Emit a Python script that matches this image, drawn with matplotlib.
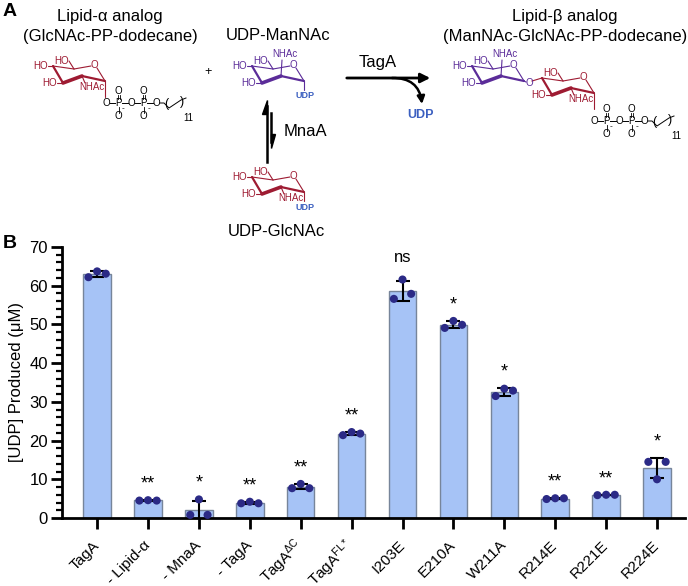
import numpy as np
import matplotlib
matplotlib.use('Agg')
import matplotlib.pyplot as plt
from matplotlib.patches import Polygon

plt.rcParams['font.family'] = ['Liberation Sans', 'DejaVu Sans']
plt.rcParams['mathtext.fontset'] = 'custom'
plt.rcParams['mathtext.rm'] = 'Liberation Sans'
plt.rcParams['mathtext.it'] = 'Liberation Sans:italic'

# panel B data: three replicates per condition (left, middle, right dot)
labels = ['TagA', '- Lipid-α', '- MnaA', '- TagA', r'TagA$^{\mathrm{ΔC}}$',
          r'TagA$^{\mathrm{FL}*}$', 'I203E', 'E210A', 'W211A', 'R214E', 'R221E', 'R224E']
rep_left = [62.2, 4.5, 0.8, 3.8, 7.7, 21.4, 56.6, 49.1, 31.5, 4.9, 5.9, 14.5]
rep_mid = [63.7, 4.6, 4.8, 4.2, 8.8, 22.2, 61.6, 50.9, 33.4, 5.1, 6.0, 10.0]
rep_right = [63.1, 4.5, 0.8, 3.8, 7.7, 21.8, 57.9, 49.9, 32.9, 5.1, 6.0, 14.5]
signif = ['', '**', '*', '**', '**', '**', 'ns', '*', '*', '**', '**', '*']

reps = np.array([rep_left, rep_mid, rep_right])
means = reps.mean(axis=0)
sds = reps.std(axis=0, ddof=1)

RED = '#9e1b32'
PURPLE = '#5b2c99'
BLUE = '#3b5fc0'

fig = plt.figure(figsize=(6.88, 5.86), dpi=100)

# ---------- panel A: scheme drawn in pixel coordinates ----------
ax0 = fig.add_axes([0, 0, 1, 1])
ax0.set_xlim(0, 688)
ax0.set_ylim(586, 0)
ax0.axis('off')


def chair(x0, y0, color, nhac_up=False, c4_label=True, anomer=None):
    p = {'C4': (0, 0), 'C5': (21, 3), 'O': (41, -1), 'C1': (52, 15),
         'C2': (29, 10), 'C3': (10, 17)}
    p = {k: (x0 + v[0], y0 + v[1]) for k, v in p.items()}

    def ln(a, b, lw=0.8):
        ax0.plot([a[0], b[0]], [a[1], b[1]], color=color, lw=lw,
                 solid_capstyle='round')
    ln(p['C4'], p['C5'])
    ln(p['C5'], (p['O'][0] - 3, p['O'][1] + 1))
    ln((p['O'][0] + 3, p['O'][1] + 3), p['C1'])
    ln(p['C1'], p['C2'], 1.6)
    ln(p['C2'], p['C3'], 2.6)
    ln(p['C3'], p['C4'], 1.6)
    ax0.text(p['O'][0], p['O'][1], 'O', color=color, fontsize=7,
             ha='center', va='center')
    # C6 hydroxyl
    ln(p['C5'], (x0 + 16, y0 - 5))
    ax0.text(x0 + 16, y0 - 5, 'HO', color=color, fontsize=7, ha='right', va='center')
    if c4_label:
        ln(p['C4'], (x0 - 5, y0))
        ax0.text(x0 - 5, y0, 'HO', color=color, fontsize=7, ha='right', va='center')
    ln(p['C3'], (x0 + 4, y0 + 17))
    ax0.text(x0 + 4, y0 + 17, 'HO', color=color, fontsize=7, ha='right', va='center')
    if nhac_up:
        ln(p['C2'], (x0 + 30, y0 - 6))
        ax0.text(x0 + 33, y0 - 12, 'NHAc', color=color, fontsize=7, ha='center', va='center')
    else:
        ln(p['C2'], (x0 + 32, y0 + 17))
        ax0.text(x0 + 39, y0 + 21, 'NHAc', color=color, fontsize=7, ha='center', va='center')
    if anomer == 'UDP':
        ln(p['C1'], (p['C1'][0], p['C1'][1] + 9))
        ax0.text(p['C1'][0] + 1, p['C1'][1] + 15, 'UDP', color=BLUE, fontsize=6.5,
                 fontweight='bold', ha='center', va='center')
    elif anomer == 'down':
        ln(p['C1'], (p['C1'][0], p['C1'][1] + 16))
    return p


def pp_chain(x, y):
    kw = dict(fontsize=7, ha='center', va='center', color='k')
    xs = [x, x + 12.5, x + 25, x + 37.5, x + 50]
    for i, xx in enumerate(xs):
        ax0.text(xx, y, 'O' if i % 2 == 0 else 'P', **kw)
    for a, b in zip(xs[:-1], xs[1:]):
        ax0.plot([a + 3.5, b - 3.5], [y, y], color='k', lw=0.7)
    for xp in (xs[1], xs[3]):
        ax0.text(xp, y - 12, 'O', **kw)
        ax0.text(xp, y + 13, 'O', **kw)
        ax0.plot([xp - 1, xp - 1], [y - 8.5, y - 4], color='k', lw=0.6)
        ax0.plot([xp + 1, xp + 1], [y - 8.5, y - 4], color='k', lw=0.6)
        ax0.plot([xp, xp], [y + 4, y + 9.5], color='k', lw=0.6)
        ax0.text(xp + 5, y + 6, '-', fontsize=6, ha='center', va='center')
    zx = [x + 54, x + 58, x + 63, x + 69, x + 75, x + 80]
    zy = [y, y, y + 5, y + 1, y - 3, y - 5]
    ax0.plot(zx, zy, color='k', lw=0.7)
    ax0.text(x + 60, y + 1, '(', fontsize=9, ha='center', va='center')
    ax0.text(x + 76, y - 1, ')', fontsize=9, ha='center', va='center')
    ax0.text(x + 82, y + 15, '11', fontsize=7, ha='center', va='center')


ax0.text(3, 12, 'A', fontsize=14, fontweight='bold', va='center')
ax0.text(3, 243, 'B', fontsize=14, fontweight='bold', va='center')

ax0.text(110, 16, 'Lipid-α analog', fontsize=12, ha='center', va='center')
ax0.text(110, 36, '(GlcNAc-PP-dodecane)', fontsize=12, ha='center', va='center')
ax0.text(278, 36, 'UDP-ManNAc', fontsize=12, ha='center', va='center')
ax0.text(565, 16, 'Lipid-β analog', fontsize=12, ha='center', va='center')
ax0.text(565, 36, '(ManNAc-GlcNAc-PP-dodecane)', fontsize=12, ha='center', va='center')
ax0.text(276, 232, 'UDP-GlcNAc', fontsize=12, ha='center', va='center')
ax0.text(208, 72, '+', fontsize=9, ha='center', va='center')
ax0.text(378, 63, 'TagA', fontsize=12, ha='center', va='center')
ax0.text(305, 132, 'MnaA', fontsize=12, ha='center', va='center')
ax0.text(421, 115, 'UDP', fontsize=9, fontweight='bold', color=BLUE,
         ha='center', va='center')

# molecules
chair(53, 66, RED, anomer='down')
pp_chain(106, 103)
chair(252, 66, PURPLE, nhac_up=True, anomer='UDP')
chair(252, 177, RED, anomer='UDP')
chair(472, 66, PURPLE, nhac_up=True)
ax0.text(529, 83, 'O', color=PURPLE, fontsize=7, ha='center', va='center')
ax0.plot([524, 526], [81, 82], color=PURPLE, lw=0.8)
ax0.plot([532, 542], [81, 78], color=RED, lw=0.8)
chair(542, 78, RED, c4_label=False, anomer='down')
pp_chain(594, 121)

# TagA arrow
ax0.annotate('', xy=(433, 78), xytext=(344, 78),
             arrowprops=dict(arrowstyle='-|>', lw=2, color='k', mutation_scale=14))
ax0.annotate('', xy=(422, 104), xytext=(392, 78),
             arrowprops=dict(arrowstyle='-|>', lw=1.8, color='k', mutation_scale=11,
                             connectionstyle='arc3,rad=-0.45', shrinkA=0, shrinkB=0))

# MnaA equilibrium harpoons
ax0.plot([266.5, 266.5], [162, 106], color='k', lw=1.8)
ax0.add_patch(Polygon([[266.5, 100], [266.5, 114], [262, 114]], closed=True, color='k'))
ax0.plot([270.5, 270.5], [113, 142], color='k', lw=1.8)
ax0.add_patch(Polygon([[270.5, 148], [270.5, 134], [275, 134]], closed=True, color='k'))

# ---------- panel B: bar chart ----------
ax = fig.add_axes([62 / 688, 68 / 586, 623 / 688, 271 / 586])
x = np.arange(len(labels))
ax.bar(x, means, width=0.54, color='#a6c3f6', edgecolor='#77859a', linewidth=1.0, zorder=2)
ax.errorbar(x, means, yerr=sds, fmt='none', ecolor='k', elinewidth=1.5,
            capsize=5, capthick=1.5, zorder=3)
offsets = [-0.17, 0.0, 0.17]
for k in range(3):
    ax.scatter(x + offsets[k], reps[k], s=34, color='#2b2a86', zorder=4,
               edgecolors='none', clip_on=False)

for i, s in enumerate(signif):
    if not s:
        continue
    top = max(reps[:, i].max(), means[i] + sds[i])
    if s == 'ns':
        ax.text(x[i], top + 4.6, s, fontsize=12, ha='center', va='baseline')
    else:
        ax.text(x[i], top + 3.0, s, fontsize=13, ha='center', va='baseline')

ax.set_xlim(-0.69, 11.55)
ax.set_ylim(0, 70)
ax.set_yticks(np.arange(0, 71, 10))
ax.set_yticks(np.arange(0, 71, 2), minor=True)
ax.set_xticks(x)
ax.set_xticklabels(labels, rotation=45, ha='right', va='center',
                   rotation_mode='anchor', fontsize=11)
ax.tick_params(axis='y', which='major', length=8, width=2, labelsize=12, pad=2)
ax.tick_params(axis='y', which='minor', length=4.5, width=1.6)
ax.tick_params(axis='x', which='major', length=8, width=2, pad=10)
for side in ('top', 'right'):
    ax.spines[side].set_visible(False)
for side in ('left', 'bottom'):
    ax.spines[side].set_linewidth(2)
ax.set_ylabel('[UDP] Produced (μM)', fontsize=12, labelpad=4)

fig.savefig('out.png', dpi=100)
